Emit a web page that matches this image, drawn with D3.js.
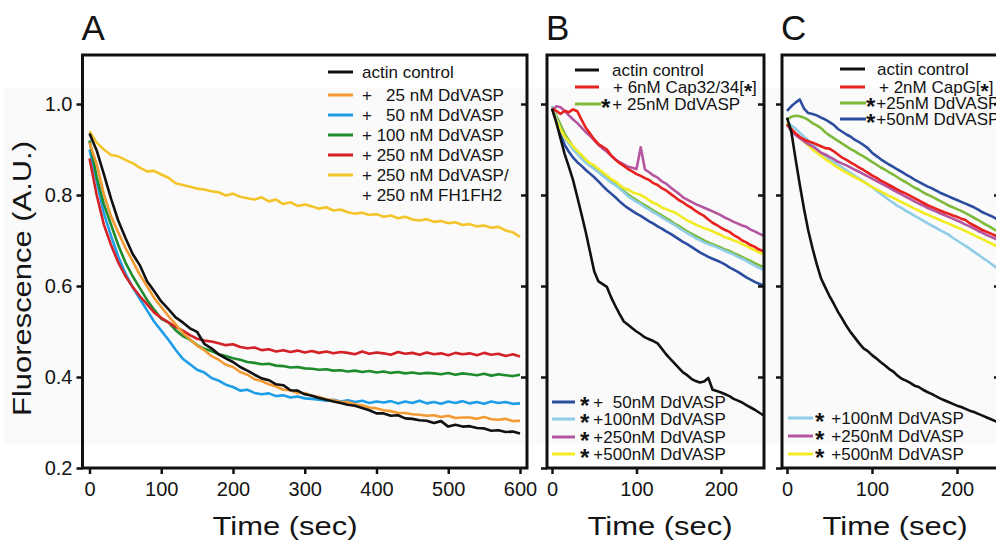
<!DOCTYPE html>
<html><head><meta charset="utf-8">
<script src="https://cdn.jsdelivr.net/npm/d3@7"></script>
<style>
body{margin:0;background:#fff}
text{font-family:"Liberation Sans",Arial,Helvetica,sans-serif;fill:#141414}
</style>
</head><body>
<svg id="chart" width="996" height="542"></svg>
<script>
// ---------------- DATA ----------------
const timeA = d3.range(0, 601, 10);
const timeBC = d3.range(0, 251, 5);

const yTicks = [0.2, 0.4, 0.6, 0.8, 1.0];
const xTicksA = [0, 100, 200, 300, 400, 500, 600];
const xTicksBC = [0, 100, 200];

// Panel A
const namesA = ["actin control", "+   25 nM DdVASP", "+   50 nM DdVASP", "+ 100 nM DdVASP", "+ 250 nM DdVASP", "+ 250 nM DdVASP/"];
const colorsA = ["#111111", "#f39a33", "#1f9de6", "#1e8c2c", "#d42027", "#f4c52a"];
const a_control = [0.935,0.898,0.846,0.792,0.744,0.706,0.671,0.646,0.611,0.589,0.566,0.549,0.531,0.520,0.507,0.499,0.473,0.463,0.450,0.441,0.433,0.422,0.414,0.405,0.397,0.393,0.384,0.382,0.371,0.370,0.362,0.359,0.354,0.350,0.346,0.343,0.339,0.337,0.332,0.327,0.320,0.320,0.315,0.316,0.309,0.308,0.305,0.304,0.299,0.303,0.291,0.295,0.291,0.292,0.288,0.287,0.282,0.283,0.279,0.280,0.276];
const a_vasp25 = [0.915,0.868,0.802,0.753,0.718,0.684,0.655,0.625,0.600,0.574,0.554,0.534,0.516,0.497,0.483,0.469,0.459,0.446,0.438,0.427,0.422,0.411,0.405,0.395,0.391,0.384,0.379,0.372,0.371,0.365,0.365,0.359,0.356,0.351,0.349,0.345,0.345,0.340,0.338,0.333,0.331,0.327,0.325,0.321,0.321,0.318,0.317,0.315,0.316,0.312,0.315,0.310,0.311,0.311,0.308,0.312,0.307,0.306,0.308,0.303,0.304];
const a_vasp50 = [0.900,0.830,0.760,0.710,0.665,0.628,0.598,0.572,0.547,0.522,0.502,0.482,0.460,0.440,0.428,0.416,0.410,0.398,0.392,0.383,0.378,0.370,0.372,0.365,0.362,0.364,0.358,0.360,0.355,0.357,0.353,0.352,0.350,0.348,0.350,0.346,0.349,0.345,0.348,0.343,0.346,0.344,0.347,0.342,0.346,0.343,0.348,0.342,0.345,0.341,0.346,0.343,0.347,0.342,0.345,0.341,0.346,0.343,0.345,0.341,0.342];
const a_vasp100 = [0.920,0.840,0.780,0.735,0.690,0.652,0.622,0.596,0.570,0.548,0.528,0.520,0.503,0.490,0.482,0.470,0.462,0.457,0.450,0.446,0.441,0.438,0.433,0.431,0.428,0.429,0.425,0.424,0.421,0.422,0.419,0.418,0.416,0.417,0.414,0.415,0.412,0.414,0.411,0.413,0.410,0.412,0.409,0.411,0.408,0.410,0.407,0.409,0.408,0.406,0.409,0.405,0.408,0.406,0.404,0.407,0.403,0.406,0.404,0.402,0.405];
const a_vasp250 = [0.880,0.800,0.735,0.690,0.652,0.622,0.598,0.578,0.560,0.542,0.530,0.520,0.510,0.502,0.492,0.484,0.480,0.478,0.474,0.470,0.472,0.466,0.463,0.465,0.459,0.461,0.456,0.459,0.455,0.458,0.454,0.457,0.453,0.456,0.452,0.455,0.453,0.450,0.456,0.451,0.454,0.452,0.449,0.455,0.451,0.453,0.449,0.454,0.450,0.452,0.448,0.453,0.450,0.452,0.448,0.453,0.449,0.451,0.446,0.450,0.445];
const a_vasp250fh = [0.940,0.915,0.900,0.888,0.885,0.877,0.870,0.860,0.852,0.853,0.845,0.838,0.826,0.822,0.818,0.814,0.812,0.808,0.806,0.799,0.803,0.796,0.793,0.790,0.795,0.786,0.790,0.780,0.784,0.776,0.779,0.775,0.770,0.773,0.766,0.768,0.762,0.759,0.761,0.756,0.758,0.752,0.755,0.749,0.752,0.746,0.744,0.747,0.741,0.743,0.738,0.740,0.734,0.736,0.731,0.733,0.728,0.730,0.722,0.718,0.708];

// Panel B
const namesB = ["actin control", "+ 6nM Cap32/34", "+ 25nM DdVASP", "+  50nM DdVASP", "+100nM DdVASP", "+250nM DdVASP", "+500nM DdVASP"];
const colorsB = ["#111111", "#e8211f", "#7dba3a", "#2b4c9f", "#8fcde6", "#b5559f", "#f3eb22"];
const b_control = [0.990,0.960,0.925,0.890,0.862,0.832,0.795,0.757,0.718,0.675,0.632,0.610,0.604,0.598,0.575,0.556,0.538,0.522,0.515,0.507,0.500,0.494,0.487,0.483,0.479,0.474,0.462,0.450,0.440,0.430,0.420,0.410,0.404,0.396,0.391,0.388,0.390,0.398,0.372,0.369,0.366,0.362,0.358,0.352,0.348,0.344,0.338,0.333,0.328,0.322,0.316];
const b_cap = [0.990,0.985,0.978,0.985,0.982,0.988,0.984,0.965,0.948,0.935,0.922,0.912,0.906,0.900,0.887,0.878,0.870,0.864,0.857,0.852,0.846,0.842,0.837,0.833,0.826,0.822,0.815,0.810,0.803,0.796,0.789,0.784,0.777,0.772,0.765,0.759,0.754,0.746,0.739,0.734,0.728,0.723,0.719,0.712,0.707,0.700,0.696,0.690,0.686,0.680,0.677];
const b_vasp25 = [0.995,0.975,0.955,0.935,0.920,0.905,0.894,0.884,0.875,0.866,0.858,0.852,0.844,0.838,0.830,0.824,0.816,0.809,0.801,0.795,0.789,0.783,0.777,0.772,0.766,0.760,0.755,0.749,0.744,0.737,0.732,0.726,0.720,0.715,0.710,0.705,0.700,0.696,0.692,0.688,0.684,0.680,0.677,0.672,0.668,0.664,0.659,0.655,0.650,0.646,0.642];
const b_vasp50 = [0.990,0.965,0.935,0.910,0.895,0.882,0.872,0.864,0.855,0.847,0.839,0.830,0.820,0.811,0.803,0.795,0.786,0.778,0.771,0.765,0.759,0.754,0.748,0.742,0.737,0.731,0.726,0.720,0.715,0.709,0.703,0.697,0.692,0.686,0.680,0.674,0.669,0.664,0.660,0.656,0.652,0.647,0.641,0.636,0.631,0.625,0.619,0.614,0.609,0.605,0.601];
const b_vasp100 = [0.995,0.970,0.945,0.925,0.912,0.900,0.890,0.880,0.871,0.864,0.857,0.850,0.842,0.835,0.827,0.822,0.814,0.806,0.797,0.791,0.785,0.780,0.773,0.768,0.762,0.757,0.751,0.745,0.740,0.734,0.728,0.722,0.716,0.711,0.705,0.701,0.696,0.692,0.689,0.685,0.681,0.677,0.673,0.669,0.664,0.660,0.655,0.650,0.645,0.640,0.636];
const b_vasp250 = [0.985,0.995,0.993,0.985,0.975,0.966,0.958,0.948,0.938,0.930,0.920,0.910,0.902,0.895,0.886,0.878,0.872,0.867,0.862,0.860,0.857,0.905,0.856,0.850,0.843,0.838,0.830,0.825,0.817,0.810,0.803,0.795,0.790,0.785,0.780,0.776,0.772,0.768,0.764,0.760,0.755,0.750,0.746,0.741,0.737,0.733,0.730,0.724,0.720,0.715,0.711];
const b_vasp500 = [0.990,0.965,0.945,0.928,0.917,0.907,0.897,0.888,0.878,0.870,0.865,0.857,0.850,0.843,0.835,0.830,0.822,0.815,0.812,0.806,0.803,0.800,0.795,0.788,0.783,0.779,0.772,0.769,0.765,0.762,0.756,0.750,0.744,0.740,0.735,0.731,0.727,0.724,0.720,0.716,0.712,0.707,0.704,0.700,0.697,0.692,0.688,0.683,0.679,0.674,0.670];

// Panel C
const namesC = ["actin control", "+ 2nM CapG", "+25nM DdVASP", "+50nM DdVASP", "+100nM DdVASP", "+250nM DdVASP", "+500nM DdVASP"];
const colorsC = ["#111111", "#e8211f", "#7dba3a", "#2b4c9f", "#8fcde6", "#b5559f", "#f3eb22"];
const c_control = [0.970,0.940,0.880,0.823,0.770,0.722,0.683,0.648,0.617,0.597,0.578,0.561,0.543,0.528,0.512,0.498,0.486,0.474,0.463,0.457,0.448,0.441,0.433,0.426,0.418,0.412,0.403,0.396,0.392,0.387,0.381,0.378,0.372,0.367,0.363,0.358,0.353,0.349,0.345,0.341,0.337,0.334,0.330,0.326,0.323,0.319,0.315,0.311,0.307,0.303,0.299];
const c_capg = [0.955,0.945,0.936,0.928,0.922,0.918,0.915,0.911,0.907,0.903,0.902,0.896,0.889,0.882,0.877,0.871,0.866,0.860,0.855,0.849,0.843,0.838,0.832,0.827,0.822,0.817,0.812,0.807,0.803,0.798,0.793,0.788,0.783,0.778,0.774,0.770,0.766,0.762,0.759,0.755,0.752,0.748,0.745,0.738,0.733,0.728,0.723,0.719,0.715,0.711,0.707];
const c_vasp25 = [0.965,0.972,0.974,0.973,0.970,0.965,0.958,0.953,0.947,0.938,0.931,0.925,0.919,0.913,0.907,0.901,0.896,0.890,0.885,0.879,0.873,0.867,0.861,0.856,0.850,0.845,0.839,0.833,0.828,0.822,0.816,0.812,0.806,0.801,0.797,0.792,0.787,0.782,0.777,0.773,0.769,0.765,0.760,0.755,0.750,0.745,0.739,0.734,0.729,0.723,0.719];
const c_vasp50 = [0.985,0.995,1.003,1.010,0.990,0.980,0.978,0.975,0.970,0.966,0.960,0.954,0.945,0.939,0.933,0.928,0.921,0.916,0.910,0.903,0.893,0.886,0.879,0.873,0.867,0.862,0.856,0.851,0.845,0.840,0.834,0.829,0.824,0.819,0.815,0.810,0.805,0.801,0.797,0.793,0.789,0.785,0.781,0.777,0.773,0.768,0.762,0.758,0.754,0.749,0.745];
const c_vasp100 = [0.960,0.953,0.946,0.937,0.928,0.920,0.911,0.902,0.893,0.885,0.878,0.872,0.866,0.860,0.854,0.848,0.842,0.836,0.830,0.823,0.817,0.810,0.803,0.796,0.789,0.783,0.776,0.771,0.765,0.760,0.754,0.749,0.744,0.738,0.733,0.728,0.723,0.718,0.713,0.706,0.700,0.694,0.688,0.682,0.675,0.669,0.662,0.656,0.649,0.642,0.636];
const c_vasp250 = [0.955,0.940,0.932,0.925,0.918,0.912,0.907,0.900,0.893,0.889,0.884,0.879,0.873,0.869,0.865,0.860,0.855,0.851,0.846,0.841,0.836,0.831,0.826,0.821,0.816,0.811,0.806,0.801,0.796,0.791,0.786,0.781,0.777,0.772,0.768,0.764,0.760,0.756,0.752,0.748,0.744,0.740,0.735,0.731,0.726,0.721,0.717,0.712,0.708,0.704,0.700];
const c_vasp500 = [0.958,0.945,0.935,0.926,0.917,0.909,0.900,0.893,0.886,0.879,0.873,0.866,0.860,0.854,0.849,0.844,0.839,0.834,0.829,0.824,0.818,0.813,0.808,0.803,0.798,0.794,0.789,0.784,0.780,0.775,0.770,0.766,0.761,0.757,0.753,0.749,0.745,0.741,0.737,0.733,0.729,0.725,0.721,0.716,0.712,0.707,0.703,0.698,0.694,0.689,0.685];

// ---------------- DRAW ----------------
const svg = d3.select("#chart");
svg.append("rect").attr("width",996).attr("height",542).attr("fill","#fff");
svg.append("rect").attr("x",4).attr("y",88).attr("width",992).attr("height",356).attr("fill","#fafafa");

const y = d3.scaleLinear().domain([0.2, 1.0]).range([468, 104]);
const plotTop = 55, plotBottom = 468;

const panels = [
  {id:"A", x: d3.scaleLinear().domain([0,600]).range([89.5,520]), x0:82.5, x1:527, ticks:xTicksA, time:timeA,
   series:[a_vasp250fh,a_vasp50,a_vasp100,a_vasp250,a_vasp25,a_control],
   colors:[colorsA[5],colorsA[2],colorsA[3],colorsA[4],colorsA[1],colorsA[0]], yLabels:true, titleX:285},
  {id:"B", x: d3.scaleLinear().domain([0,200]).range([552,721]), x0:547, x1:764, ticks:xTicksBC, time:timeBC,
   series:[b_vasp25,b_vasp50,b_vasp100,b_vasp500,b_vasp250,b_cap,b_control],
   colors:[colorsB[2],colorsB[3],colorsB[4],colorsB[6],colorsB[5],colorsB[1],colorsB[0]], yLabels:false, titleX:660},
  {id:"C", x: d3.scaleLinear().domain([0,200]).range([787,957]), x0:782, x1:1000, ticks:xTicksBC, time:timeBC,
   series:[c_vasp100,c_vasp500,c_vasp250,c_capg,c_vasp25,c_vasp50,c_control],
   colors:[colorsC[4],colorsC[6],colorsC[5],colorsC[1],colorsC[2],colorsC[3],colorsC[0]], yLabels:false, titleX:895}
];

const defs = svg.append("defs");
panels.forEach(p => {
  defs.append("clipPath").attr("id","clip"+p.id).append("rect")
    .attr("x",p.x0).attr("y",plotTop).attr("width",p.x1-p.x0).attr("height",plotBottom-plotTop);
  const g = svg.append("g").attr("clip-path","url(#clip"+p.id+")");
  const line = d3.line().x(d=>p.x(d[0])).y(d=>y(d[1]));
  p.series.forEach((s,i) => {
    const pts = p.time.map((t,j)=>[t,s[j]]).filter(d=>d[1]!==undefined);
    g.append("path").attr("d",line(pts)).attr("fill","none")
      .attr("stroke",p.colors[i]).attr("stroke-width",2.6).attr("stroke-linejoin","round");
  });
  svg.append("rect").attr("x",p.x0).attr("y",plotTop).attr("width",p.x1-p.x0).attr("height",plotBottom-plotTop)
    .attr("fill","none").attr("stroke","#111").attr("stroke-width",3);
  const ax = svg.append("g").attr("transform",`translate(0,${plotBottom})`)
    .call(d3.axisBottom(p.x).tickValues(p.ticks).tickSize(6).tickPadding(8).tickSizeOuter(0));
  ax.select(".domain").remove();
  ax.selectAll("line").attr("stroke","#111").attr("stroke-width",2.5);
  ax.selectAll("text").attr("font-size",20).attr("fill","#141414")
    .attr("font-family","Liberation Sans, Arial, sans-serif");
  const ay = svg.append("g").attr("transform",`translate(${p.x0},0)`)
    .call(d3.axisLeft(y).tickValues(yTicks).tickSize(6).tickPadding(4).tickFormat(p.yLabels ? d3.format(".1f") : ""));
  ay.select(".domain").remove();
  ay.selectAll("line").attr("stroke","#111").attr("stroke-width",2.5);
  ay.selectAll("text").attr("font-size",20).attr("fill","#141414")
    .attr("font-family","Liberation Sans, Arial, sans-serif");
  const ar = svg.append("g").attr("transform",`translate(${p.x1},0)`)
    .call(d3.axisLeft(y).tickValues(yTicks.slice(1)).tickSize(6).tickFormat(""));
  ar.select(".domain").remove();
  ar.selectAll("line").attr("stroke","#111").attr("stroke-width",2.5);
  svg.append("text").attr("x",p.x0-1).attr("y",40).attr("font-size",35).text(p.id);
  svg.append("text").attr("x",p.titleX).attr("y",535).attr("text-anchor","middle")
    .attr("font-size",25).attr("textLength",145).attr("lengthAdjust","spacingAndGlyphs").text("Time (sec)");
});

svg.append("text").attr("transform","translate(31,278.5) rotate(-90)").attr("text-anchor","middle")
  .attr("font-size",25).attr("textLength",275).attr("lengthAdjust","spacingAndGlyphs").text("Fluorescence (A.U.)");

// ---------------- LEGENDS ----------------
// star: label preceded by a bold asterisk; gap = space between asterisk and label
function legendRow(x1, x2, cy, color, star, label, textX, bracketStar, gap){
  if (color) svg.append("line").attr("x1",x1).attr("x2",x2).attr("y1",cy).attr("y2",cy)
    .attr("stroke",color).attr("stroke-width",3);
  const t = svg.append("text").attr("x",textX).attr("y",cy+6).attr("font-size",17)
    .style("white-space","pre");
  if (star){
    t.append("tspan").attr("font-weight","bold").attr("font-size",24).attr("dy",6).text("*");
    t.append("tspan").attr("dy",-6).attr("dx",gap||0).text(label);
  } else {
    t.append("tspan").text(label);
  }
  if (bracketStar){
    t.append("tspan").text("[");
    t.append("tspan").attr("font-weight","bold").attr("font-size",21).attr("dy",5).text("*");
    t.append("tspan").attr("dy",-5).text("]");
  }
}
const rowsA = [72, 95, 115, 135, 155, 175];
namesA.forEach((n,i)=>legendRow(328,353,rowsA[i],colorsA[i],false,n,362,false));
legendRow(0,0,195,null,false,"+ 250 nM FH1FH2",362,false);
legendRow(575,599,70,colorsB[0],false,namesB[0],612,false);
legendRow(575,599,87,colorsB[1],false,namesB[1],613,true);
legendRow(575,601,104,colorsB[2],true,namesB[2],601,false,2);
const rowsB = [402, 419, 437, 454];
[3,4,5,6].forEach((k,i)=>legendRow(552,575,rowsB[i],colorsB[k],true,namesB[k],580,false,4));
legendRow(840,865,69,colorsC[0],false,namesC[0],877,false);
legendRow(840,865,87,colorsC[1],false,namesC[1],879,true);
legendRow(840,866,103,colorsC[2],true,namesC[2],866,false,1);
legendRow(840,866,119,colorsC[3],true,namesC[3],866,false,1);
const rowsC = [418, 436, 454];
[4,5,6].forEach((k,i)=>legendRow(788,813,rowsC[i],colorsC[k],true,namesC[k],815,false,7));
</script>
</body></html>
